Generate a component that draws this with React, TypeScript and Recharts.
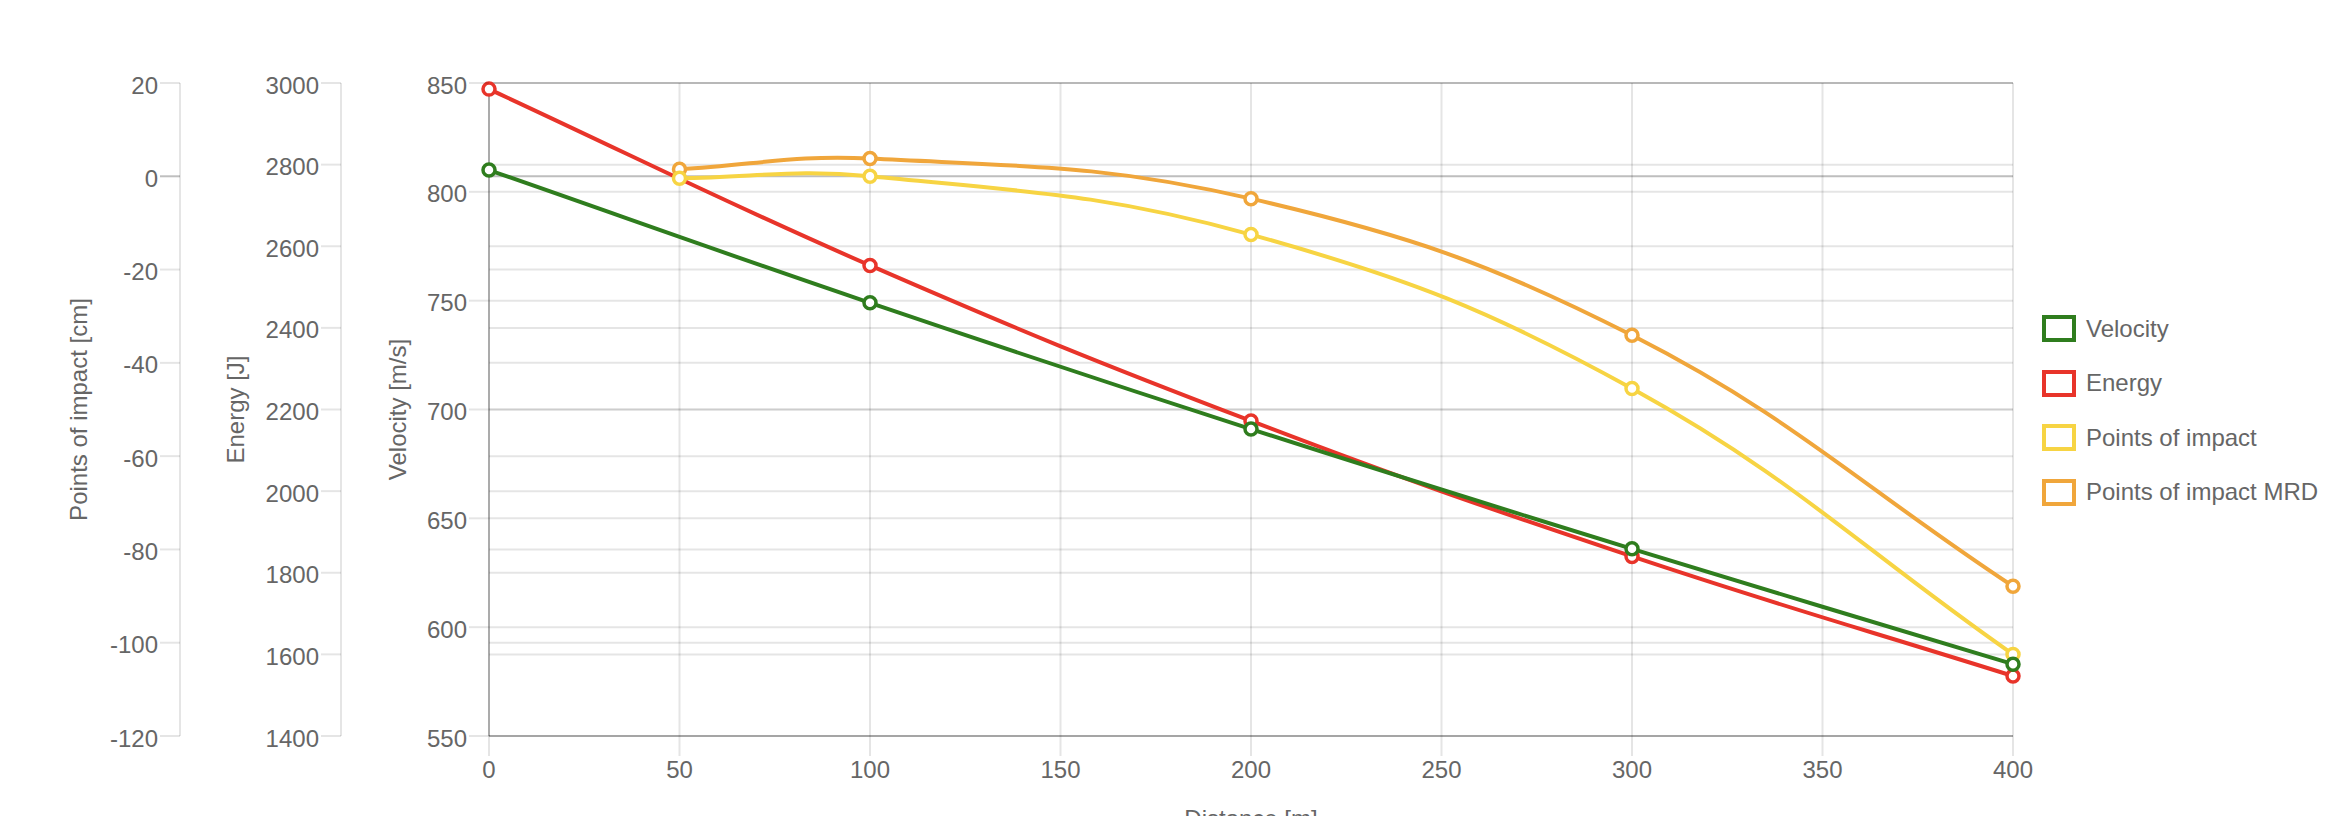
import React from 'react';
import {
  LineChart,
  Line,
  XAxis,
  YAxis,
  CartesianGrid,
  ReferenceLine,
  Legend
} from 'recharts';

// distance in m, one row per measuring point
const distances = [0, 50, 100, 200, 300, 400];
const velocity = [810, null, 749, 691, 636, 583];
const energy = [2985, null, 2553, 2172, 1840, 1547];
const pointsOfImpact = [null, -0.4, 0, -12.5, -45.5, -102.5];
const pointsOfImpactMrd = [null, 1.5, 3.8, -4.8, -34.1, -87.9];

const distanceTicks = [0, 50, 100, 150, 200, 250, 300, 350, 400];
const velocityTicks = [550, 600, 650, 700, 750, 800, 850];
const energyTicks = [1400, 1600, 1800, 2000, 2200, 2400, 2600, 2800, 3000];
const impactTicks = [-120, -100, -80, -60, -40, -20, 0, 20];

const seriesNames = ['Velocity', 'Energy', 'Points of impact', 'Points of impact MRD'];
const seriesColors = ['#2f7d1e', '#e8342a', '#f7d443', '#f0a63b'];

// left axes get stacked by id order, first one next to the plot
const V_AXIS = 'a-velocity';
const E_AXIS = 'b-energy';
const P_AXIS = 'c-poi';

const FONT = '"Liberation Sans", Arial, Helvetica, sans-serif';
const TEXT = '#666';
const GRID = 'rgba(0,0,0,0.1)';
const TICK_SIZE = 20;
const TICK_MARGIN = 2;

const data = distances.map((d, i) => ({
  d,
  velocity: velocity[i],
  energy: energy[i],
  poi: pointsOfImpact[i],
  poiMrd: pointsOfImpactMrd[i]
}));

// same spline Chart.js uses (tension 0.4)
function chartSpline(context: any) {
  let pts: number[][] = [];
  return {
    areaStart() {},
    areaEnd() {},
    lineStart() {
      pts = [];
    },
    point(x: number, y: number) {
      pts.push([+x, +y]);
    },
    lineEnd() {
      const n = pts.length;
      if (!n) return;
      const t = 0.4;
      const ctrl = pts.map((p, i) => {
        const prev = pts[i - 1] || p;
        const next = pts[i + 1] || p;
        const d01 = Math.hypot(p[0] - prev[0], p[1] - prev[1]);
        const d12 = Math.hypot(next[0] - p[0], next[1] - p[1]);
        let s01 = d01 / (d01 + d12);
        let s12 = d12 / (d01 + d12);
        if (!isFinite(s01)) s01 = 0;
        if (!isFinite(s12)) s12 = 0;
        const fa = t * s01;
        const fb = t * s12;
        return {
          prev: [p[0] - fa * (next[0] - prev[0]), p[1] - fa * (next[1] - prev[1])],
          next: [p[0] + fb * (next[0] - prev[0]), p[1] + fb * (next[1] - prev[1])]
        };
      });
      context.moveTo(pts[0][0], pts[0][1]);
      for (let i = 1; i < n; i++) {
        context.bezierCurveTo(
          ctrl[i - 1].next[0], ctrl[i - 1].next[1],
          ctrl[i].prev[0], ctrl[i].prev[1],
          pts[i][0], pts[i][1]
        );
      }
    }
  };
}

const makeYTick = (darkZero: boolean) => (props: any) => {
  const { x, y, payload } = props;
  const lineX = x + TICK_MARGIN;
  const dark = darkZero && payload.value === 0;
  return (
    <g>
      <line
        x1={lineX}
        x2={lineX + TICK_SIZE}
        y1={y}
        y2={y}
        stroke={dark ? 'rgba(0,0,0,0.25)' : GRID}
        strokeWidth={2}
      />
      <text x={x} y={y} dy={2} textAnchor="end" dominantBaseline="central" fontSize={24} fill={TEXT} fontFamily={FONT}>
        {payload.value}
      </text>
    </g>
  );
};

const axisTitle = (text: string, dx: number) => (props: any) => {
  const { x, y, height } = props.viewBox;
  const cx = x + dx;
  const cy = y + height / 2;
  return (
    <text
      x={cx}
      y={cy}
      transform={`rotate(-90 ${cx} ${cy})`}
      textAnchor="middle"
      dominantBaseline="central"
      fontSize={24}
      fill={TEXT}
      fontFamily={FONT}
    >
      {text}
    </text>
  );
};

const LegendBox = () => (
  <div style={{ fontFamily: FONT }}>
    {seriesNames.map((name, i) => (
      <div key={name} style={{ display: 'flex', alignItems: 'center', height: 27, marginBottom: 27.5 }}>
        <div
          style={{
            width: 34,
            height: 27,
            boxSizing: 'border-box',
            border: `4px solid ${seriesColors[i]}`,
            background: '#fff'
          }}
        />
        <span style={{ marginLeft: 10, fontSize: 24, color: TEXT, whiteSpace: 'nowrap' }}>{name}</span>
      </div>
    ))}
  </div>
);

const dot = (color: string) => ({ r: 6, fill: '#fff', stroke: color, strokeWidth: 3.5 });

export default function App() {
  return (
    <div style={{ position: 'absolute', left: 0, top: 0, width: 2352, height: 816, background: '#fff' }}>
      <LineChart
        width={2352}
        height={816}
        data={data}
        margin={{ top: 83, right: 339, bottom: 0, left: 0 }}
        style={{ fontFamily: FONT }}
      >
        <XAxis
          dataKey="d"
          type="number"
          domain={[0, 400]}
          ticks={distanceTicks}
          height={80}
          tickSize={TICK_SIZE}
          tickMargin={5}
          tickLine={{ stroke: GRID, strokeWidth: 2 }}
          axisLine={{ stroke: GRID, strokeWidth: 2 }}
          tick={{ fontSize: 24, fill: TEXT, fontFamily: FONT }}
          label={{ value: 'Distance [m]', position: 'bottom', offset: -6, fontSize: 24, fill: TEXT, fontFamily: FONT }}
        />
        <YAxis
          yAxisId={V_AXIS}
          orientation="left"
          width={148}
          domain={[550, 850]}
          ticks={velocityTicks}
          tickSize={TICK_SIZE}
          tickMargin={TICK_MARGIN}
          tickLine={false}
          axisLine={false}
          tick={makeYTick(false)}
          label={{ content: axisTitle('Velocity [m/s]', 56.6) }}
        />
        <YAxis
          yAxisId={E_AXIS}
          orientation="left"
          width={161}
          domain={[1400, 3000]}
          ticks={energyTicks}
          tickSize={TICK_SIZE}
          tickMargin={TICK_MARGIN}
          tickLine={false}
          axisLine={{ stroke: GRID, strokeWidth: 2 }}
          tick={makeYTick(false)}
          label={{ content: axisTitle('Energy [J]', 55.4) }}
        />
        <YAxis
          yAxisId={P_AXIS}
          orientation="left"
          width={180}
          domain={[-120, 20]}
          ticks={impactTicks}
          tickSize={TICK_SIZE}
          tickMargin={TICK_MARGIN}
          tickLine={false}
          axisLine={{ stroke: GRID, strokeWidth: 2 }}
          tick={makeYTick(true)}
          label={{ content: axisTitle('Points of impact [cm]', 78) }}
        />
        <CartesianGrid yAxisId={V_AXIS} stroke={GRID} strokeWidth={2} vertical={true} />
        <CartesianGrid yAxisId={E_AXIS} stroke={GRID} strokeWidth={2} vertical={false} />
        <CartesianGrid yAxisId={P_AXIS} stroke={GRID} strokeWidth={2} vertical={false} />
        <ReferenceLine yAxisId={V_AXIS} x={0} stroke="rgba(0,0,0,0.25)" strokeWidth={2} />
        <ReferenceLine yAxisId={P_AXIS} y={0} stroke="rgba(0,0,0,0.17)" strokeWidth={2} />
        <Legend
          layout="vertical"
          align="center"
          verticalAlign="middle"
          wrapperStyle={{ left: 2042, top: 315, width: 'auto', height: 'auto' }}
          content={() => <LegendBox />}
        />
        <Line
          yAxisId={P_AXIS}
          dataKey="poiMrd"
          name={seriesNames[3]}
          stroke={seriesColors[3]}
          strokeWidth={4}
          type={chartSpline as any}
          connectNulls
          dot={dot(seriesColors[3])}
          activeDot={false}
          isAnimationActive={false}
        />
        <Line
          yAxisId={P_AXIS}
          dataKey="poi"
          name={seriesNames[2]}
          stroke={seriesColors[2]}
          strokeWidth={4}
          type={chartSpline as any}
          connectNulls
          dot={dot(seriesColors[2])}
          activeDot={false}
          isAnimationActive={false}
        />
        <Line
          yAxisId={E_AXIS}
          dataKey="energy"
          name={seriesNames[1]}
          stroke={seriesColors[1]}
          strokeWidth={4}
          type={chartSpline as any}
          connectNulls
          dot={dot(seriesColors[1])}
          activeDot={false}
          isAnimationActive={false}
        />
        <Line
          yAxisId={V_AXIS}
          dataKey="velocity"
          name={seriesNames[0]}
          stroke={seriesColors[0]}
          strokeWidth={4}
          type={chartSpline as any}
          connectNulls
          dot={dot(seriesColors[0])}
          activeDot={false}
          isAnimationActive={false}
        />
      </LineChart>
    </div>
  );
}
